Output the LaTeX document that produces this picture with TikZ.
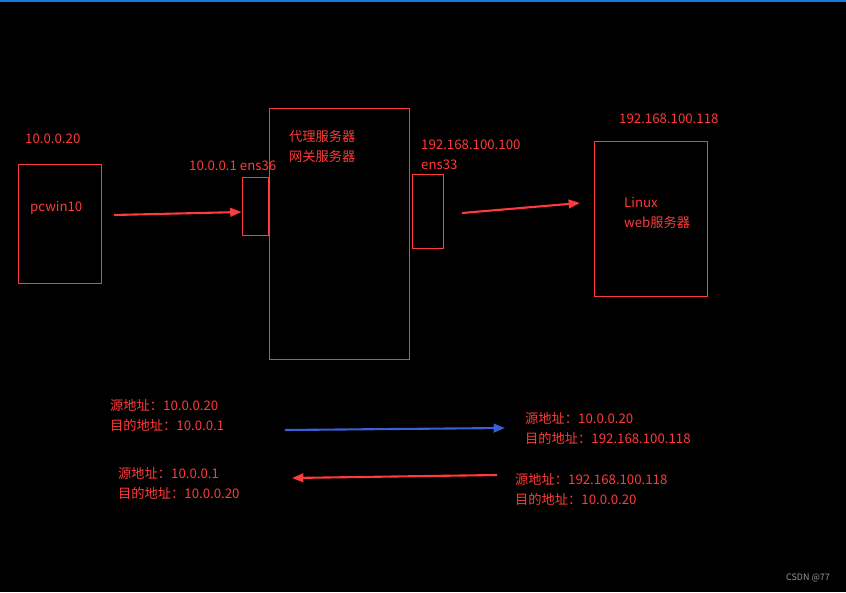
\documentclass[tikz,border=0pt]{standalone}
\usepackage{fontspec}
\setmainfont{Noto Sans CJK SC}
\usetikzlibrary{arrows.meta, positioning}
\definecolor{netred}{RGB}{255,58,58}
\definecolor{netblue}{RGB}{58,96,216}
\definecolor{topbar}{RGB}{20,125,215}

\begin{document}
\begin{tikzpicture}[
x=0.03cm, y=-0.03cm,
box/.style={draw=netred, line width=0.8pt, inner sep=0pt},
lbl/.style={text=netred, anchor=west, align=left, inner sep=0pt, font=\fontsize{11.3}{17}\selectfont},
arrow/.style={-{Triangle[length=3.4mm, width=2.6mm]}, line width=1.8pt, draw=netred}
]

% background and top bar
\fill[black] (0,0) rectangle (846,592);
\useasboundingbox (0,0) rectangle (846,592);
\fill[topbar] (0,0) rectangle (846,2);

% hosts and interfaces
\node[box, minimum width=2.49cm, minimum height=3.57cm] (pc) at (59.5,223.5) {};
\node[box, minimum width=0.78cm, minimum height=1.74cm] (ens36) at (255,206) {};
\node[box, minimum width=4.2cm, minimum height=7.53cm] (proxy) at (339,233.5) {};
\node[box, minimum width=0.93cm, minimum height=2.22cm] (ens33) at (427.5,211) {};
\node[box, minimum width=3.39cm, minimum height=4.65cm] (web) at (650.5,218.5) {};

% labels
\node[lbl] (pcip) at (25,139) {10.0.0.20};
\node[lbl] (pcname) at (30,208) {pcwin10};
\node[lbl] (ip36) at (189,166) {10.0.0.1 ens36};
\node[lbl] (proxyname) at (289,146.5) {代理服务器\\网关服务器};
\node[lbl] (ip33) at (421,155) {192.168.100.100\\ens33};
\node[lbl] (webip) at (619,119) {192.168.100.118};
\node[lbl] (webname) at (624,213) {Linux\\web服务器};

% packet headers
\node[lbl] (req1) at (110,415) {源地址：10.0.0.20\\目的地址：10.0.0.1};
\node[lbl] (req2) at (525,428) {源地址：10.0.0.20\\目的地址：192.168.100.118};
\node[lbl] (rep1) at (118,483) {源地址：10.0.0.1\\目的地址：10.0.0.20};
\node[lbl] (rep2) at (515,489) {源地址：192.168.100.118\\目的地址：10.0.0.20};

\node[text=gray!80, anchor=west, inner sep=0pt, font=\fontsize{7.6}{9}\selectfont] (mark) at (786,578) {CSDN @77};

% arrow ends
\coordinate (a1) at (114,215);
\coordinate (a2) at (462,213);
\coordinate (a3) at (580,203);
\coordinate (b1) at (285,430);
\coordinate (b2) at (505,428);
\coordinate (c1) at (497,475);
\coordinate (c2) at (292,478);

\draw[arrow] (a1) -- ([yshift=-0.18cm]ens36.west);
\draw[arrow] (a2) -- (a3);
\draw[arrow, draw=netblue] (b1) -- (b2);
\draw[arrow] (c1) -- (c2);

\end{tikzpicture}
\end{document}
